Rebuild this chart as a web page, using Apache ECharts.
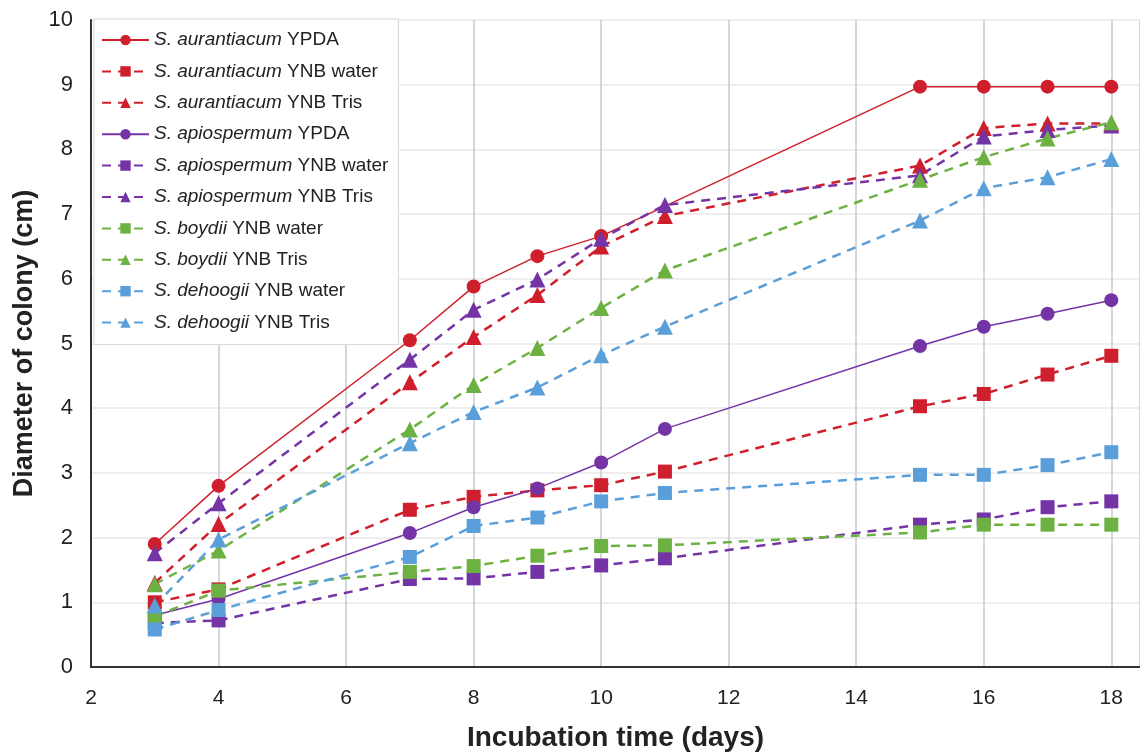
<!DOCTYPE html>
<html>
<head>
<meta charset="utf-8">
<script src="https://cdn.jsdelivr.net/npm/echarts@6/dist/echarts.min.js"></script>
<style>
  html, body { margin: 0; padding: 0; background: #fff; }
  #chart { width: 1140px; height: 756px; }
</style>
</head>
<body>
<div id="chart"></div>
<script>
// incubation days (x) and colony diameter in cm (y)
const days = [3, 4, 7, 8, 9, 10, 11, 15, 16, 17, 18]

const aurYPDA  = [1.9, 2.8, 5.05, 5.88, 6.35, 6.66, null, 8.97, 8.97, 8.97, 8.97]
const aurWater = [1.0, 1.2, 2.43, 2.63, 2.73, 2.81, 3.02, 4.03, 4.22, 4.52, 4.81]
const aurTris  = [1.3, 2.21, 4.4, 5.1, 5.75, 6.5, 6.97, 7.75, 8.33, 8.4, 8.4]
const apiYPDA  = [0.8, 1.05, 2.07, 2.47, 2.76, 3.16, 3.68, 4.96, 5.26, 5.46, 5.67]
const apiWater = [0.68, 0.72, 1.36, 1.37, 1.47, 1.57, 1.68, 2.2, 2.28, 2.47, 2.56]
const apiTris  = [1.76, 2.53, 4.75, 5.52, 5.99, 6.62, 7.14, 7.6, 8.2, 8.3, 8.37]
const boyWater = [0.78, 1.18, 1.47, 1.56, 1.72, 1.87, 1.88, 2.08, 2.2, 2.2, 2.2]
const boyTris  = [1.28, 1.8, 3.67, 4.36, 4.93, 5.55, 6.13, 7.53, 7.88, 8.17, 8.42]
const dehWater = [0.58, 0.88, 1.7, 2.18, 2.31, 2.56, 2.69, 2.97, 2.97, 3.12, 3.32]
const dehTris  = [0.95, 1.97, 3.46, 3.94, 4.32, 4.82, 5.26, 6.9, 7.4, 7.57, 7.85]

const RED = "#d01f2c"
const PURPLE = "#7434a6"
const GREEN = "#6db142"
const BLUE = "#5a9fd9"

const FONT = "'Liberation Sans', Arial, sans-serif"

// [species, medium, values, colour, symbol, dashed]
const seriesDefs = [
    ["S. aurantiacum", "YPDA", aurYPDA, RED, "circle", false],
    ["S. aurantiacum", "YNB water", aurWater, RED, "rect", true],
    ["S. aurantiacum", "YNB Tris", aurTris, RED, "triangle", true],
    ["S. apiospermum", "YPDA", apiYPDA, PURPLE, "circle", false],
    ["S. apiospermum", "YNB water", apiWater, PURPLE, "rect", true],
    ["S. apiospermum", "YNB Tris", apiTris, PURPLE, "triangle", true],
    ["S. boydii", "YNB water", boyWater, GREEN, "rect", true],
    ["S. boydii", "YNB Tris", boyTris, GREEN, "triangle", true],
    ["S. dehoogii", "YNB water", dehWater, BLUE, "rect", true],
    ["S. dehoogii", "YNB Tris", dehTris, BLUE, "triangle", true],
]

let series = seriesDefs.map(d => {
    let [sp, med, vals, color, sym, dashed] = d
    return {
        name: sp + "|" + med,
        type: "line",
        data: days.map((x, i) => [x, vals[i]]),
        connectNulls: true,
        symbol: sym,
        symbolSize: sym === "triangle" ? 16 : 14,
        itemStyle: { color: color },
        lineStyle: {
            color: color,
            width: dashed ? 2.5 : 1.5,
            type: dashed ? [9, 7] : "solid"
        },
        emphasis: { disabled: true },
        animation: false
    }
})

let myChart = echarts.init(document.getElementById("chart"))
let option = {
    backgroundColor: "#fff",
    textStyle: { fontFamily: FONT },
    grid: { left: 91, right: 0, top: 20, bottom: 89, outerBoundsMode: "none", containLabel: false },
    legend: {
        orient: "vertical",
        left: 94,
        top: 19,
        padding: [11, 10, 12, 7],
        backgroundColor: "#fff",
        borderColor: "#d8d8d8",
        borderWidth: 1,
        itemWidth: 47,
        itemHeight: 13,
        itemGap: 11.4,
        data: series.map(s => s.name),
        formatter: name => {
            let [sp, med] = name.split("|")
            return "{i|" + sp + "} " + med
        },
        textStyle: {
            fontFamily: FONT,
            fontSize: 19,
            color: "#222",
            lineHeight: 20,
            rich: {
                i: { fontStyle: "italic", fontSize: 19, color: "#222", fontFamily: FONT }
            }
        }
    },
    xAxis: [{
        type: "value",
        min: 2,
        max: 18.45,
        interval: 2,
        name: "Incubation time (days)",
        nameLocation: "middle",
        nameGap: 57,
        nameTextStyle: { fontSize: 28, fontWeight: "bold", color: "#222", fontFamily: FONT },
        axisLine: { show: true, onZero: false, lineStyle: { color: "#333", width: 2 } },
        axisTick: { show: false },
        axisLabel: { fontSize: 21, color: "#222", margin: 21, showMaxLabel: false, fontFamily: FONT },
        splitLine: { show: true, lineStyle: { color: "#c9cacf", width: 1.5 } }
    }, {
        type: "value",
        position: "top",
        min: 2,
        max: 18.45,
        axisLine: { show: true, lineStyle: { color: "#333", width: 2 } },
        axisTick: { show: false },
        axisLabel: { show: false },
        splitLine: { show: false }
    }],
    yAxis: {
        type: "value",
        min: 0,
        max: 10,
        interval: 1,
        name: "Diameter of colony (cm)",
        nameLocation: "middle",
        nameGap: 47,
        nameTextStyle: { fontSize: 27, fontWeight: "bold", color: "#222", fontFamily: FONT },
        axisLine: { show: true, lineStyle: { color: "#333", width: 2 } },
        axisTick: { show: false },
        axisLabel: { fontSize: 22, color: "#222", margin: 18, fontFamily: FONT },
        splitLine: { show: true, lineStyle: { color: "#e8e8ea", width: 1.5 } }
    },
    series: series
}
myChart.setOption(option)
</script>
</body>
</html>
